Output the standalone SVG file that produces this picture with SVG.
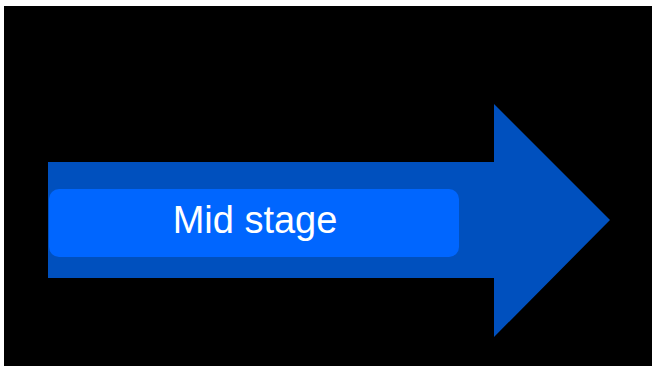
<svg xmlns="http://www.w3.org/2000/svg" width="652" height="370" viewBox="0 0 652 370">
<style>
.bg{fill:#000000}
.arrow{fill:#0050BE}
.box{fill:#0066FF}
.lbl{font-family:"Liberation Sans",Arial,sans-serif;font-size:38px;fill:#FFFFFF;text-anchor:middle}
</style>
<rect x="0" y="0" width="652" height="370" fill="#FFFFFF"/>
<rect class="bg" x="4" y="6" width="648" height="360"/>
<g id="arrow">
<polygon class="arrow" points="48,162 494,162 494,104 610,220 494,337 494,278 48,278"/>
</g>
<g id="mid-stage">
<rect class="box" x="49" y="189" width="410" height="68" rx="10" ry="10"/>
<text class="lbl" x="255" y="233">Mid stage</text>
</g>
<g id="connectors"/>
</svg>
